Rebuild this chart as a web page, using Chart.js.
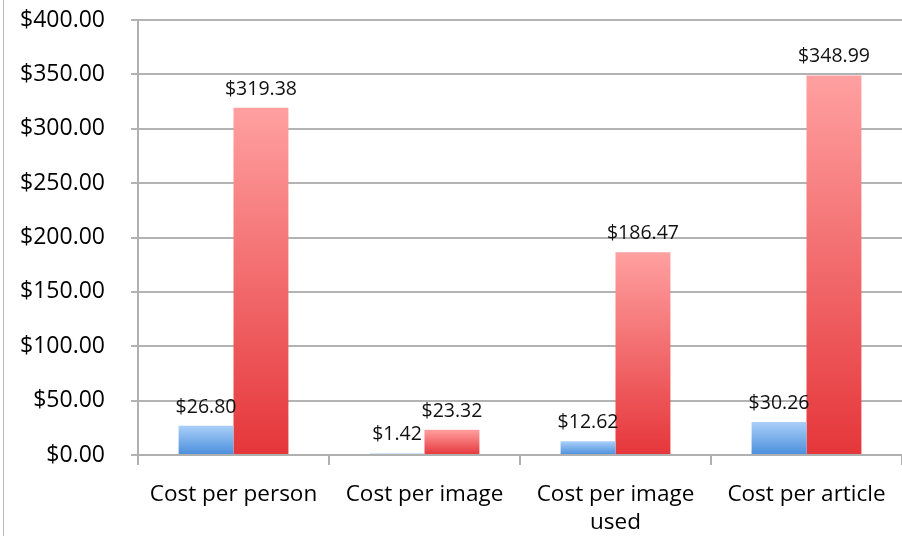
<!DOCTYPE html>
<html>
<head>
<meta charset="utf-8">
<script src="https://cdn.jsdelivr.net/npm/chart.js@4"></script>
<style>
  html, body { margin: 0; padding: 0; background: #fff; }
  #wrap { position: relative; width: 902px; height: 536px; }
  #frame { position: absolute; left: 3px; top: 0; width: 1px; height: 536px; background: #b8b8b8; }
</style>
</head>
<body>
<div id="wrap">
  <div id="frame"></div>
  <canvas id="barChart" width="902" height="536"></canvas>
</div>
<script>
// chart data
const categories = ['Cost per person', 'Cost per image', ['Cost per image', 'used'], 'Cost per article'];
const blueValues = [26.80, 1.42, 12.62, 30.26];
const redValues = [319.38, 23.32, 186.47, 348.99];
const yTicks = { min: 0, max: 400, step: 50 };

const fontFamily = '"Open Sans", "Noto Sans", sans-serif';

function money(v) {
    return '$' + v.toFixed(2);
}

// vertical gradient for each bar, from its top down to the zero line
function barGradient(topColor, bottomColor) {
    return function (context) {
        const chart = context.chart;
        if (!chart.chartArea || context.raw === undefined) return bottomColor;
        const y = chart.scales.y;
        const top = y.getPixelForValue(context.raw);
        const bottom = y.getPixelForValue(0);
        const g = chart.ctx.createLinearGradient(0, top, 0, bottom === top ? top + 1 : bottom);
        g.addColorStop(0, topColor);
        g.addColorStop(1, bottomColor);
        return g;
    };
}

// value labels above every bar
const valueLabels = {
    id: 'valueLabels',
    afterDatasetsDraw(chart) {
        const ctx = chart.ctx;
        ctx.save();
        ctx.font = '19.5px ' + fontFamily;
        ctx.fillStyle = '#111';
        ctx.textAlign = 'center';
        ctx.textBaseline = 'alphabetic';
        chart.data.datasets.forEach((ds, i) => {
            chart.getDatasetMeta(i).data.forEach((bar, j) => {
                ctx.fillText(money(ds.data[j]), bar.x, bar.y - 13);
            });
        });
        ctx.restore();
    }
};

let ctx = document.getElementById('barChart').getContext('2d');
let chart = new Chart(ctx, {
    type: 'bar',
    data: {
        labels: categories,
        datasets: [{
            label: 'Series 1',
            data: blueValues,
            backgroundColor: barGradient('#a9cff8', '#4a8edc')
        }, {
            label: 'Series 2',
            data: redValues,
            backgroundColor: barGradient('#ffa0a0', '#e5363a')
        }]
    },
    options: {
        responsive: false,
        animation: false,
        // plot runs a little past the right edge, like the original
        layout: { padding: { top: 20, right: -5, left: 0, bottom: 0 } },
        datasets: {
            bar: { categoryPercentage: 0.575, barPercentage: 1.0 }
        },
        plugins: {
            legend: { display: false },
            tooltip: { enabled: false }
        },
        scales: {
            x: {
                grid: {
                    offset: true,
                    drawOnChartArea: false,
                    color: '#b0b0b0',
                    lineWidth: 2,
                    tickLength: 10
                },
                border: { color: '#b0b0b0', width: 2 },
                ticks: {
                    color: '#000',
                    padding: 16,
                    maxRotation: 0,
                    autoSkip: false,
                    font: { family: fontFamily, size: 22.5, lineHeight: 1.22 }
                },
                afterFit(scale) { scale.height = 81; }
            },
            y: {
                min: yTicks.min,
                max: yTicks.max,
                grid: {
                    color: '#b3b3b3',
                    lineWidth: 2,
                    tickLength: 7
                },
                border: { color: '#b0b0b0', width: 2 },
                ticks: {
                    stepSize: yTicks.step,
                    color: '#000',
                    padding: 26,
                    font: { family: fontFamily, size: 23 },
                    callback: (v) => money(v)
                },
                afterFit(scale) {
                    // tick padding would otherwise push the plot top down
                    scale.width = 138;
                    scale.paddingTop = 0;
                    scale.paddingBottom = 0;
                }
            }
        }
    },
    plugins: [valueLabels]
});
</script>
</body>
</html>
